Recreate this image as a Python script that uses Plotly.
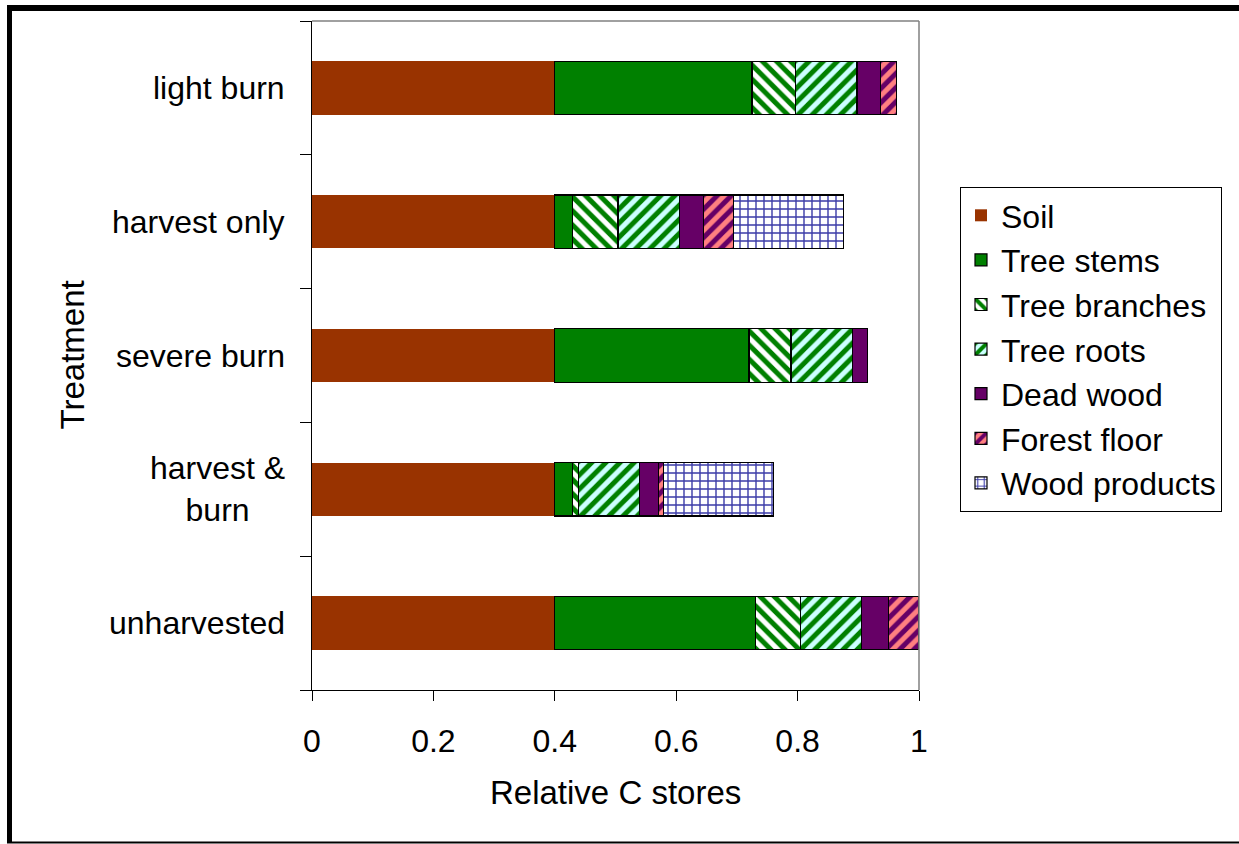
import plotly.graph_objects as go

# Treatments, bottom to top
treatments = ["unharvested", "harvest & burn", "severe burn", "harvest only", "light burn"]
treatment_labels = ["unharvested", "harvest &<br>burn", "severe burn", "harvest only", "light burn"]

# Relative carbon stores by pool
soil = [0.400, 0.400, 0.400, 0.400, 0.400]
tree_stems = [0.330, 0.029, 0.320, 0.029, 0.325]
tree_branches = [0.075, 0.010, 0.069, 0.075, 0.072]
tree_roots = [0.100, 0.100, 0.101, 0.101, 0.101]
dead_wood = [0.045, 0.032, 0.025, 0.040, 0.039]
forest_floor = [0.050, 0.008, 0.000, 0.049, 0.026]
wood_products = [0.000, 0.181, 0.000, 0.181, 0.000]

x_ticks = [0, 0.2, 0.4, 0.6, 0.8, 1]
x_tick_labels = ["0", "0.2", "0.4", "0.6", "0.8", "1"]

FONT = "Liberation Sans, Arial, sans-serif"
W, H = 1239, 844
ML, MR, MT, MB = 312, 320, 21, 154
PW, PH = W - ML - MR, H - MT - MB


def px_x(px):
    return (px - ML) / PW


def px_y(py):
    return (H - MB - py) / PH


OUTLINE = dict(color="black", width=1.2)

series = [
    ("Soil", soil, dict(color="#993300", line=dict(width=0))),
    ("Tree stems", tree_stems, dict(color="#008000", line=OUTLINE)),
    ("Tree branches", tree_branches, dict(
        color="white", line=OUTLINE,
        pattern=dict(shape="\\", fgcolor="#008000", bgcolor="white",
                     size=10, solidity=0.5, fgopacity=1))),
    ("Tree roots", tree_roots, dict(
        color="#CCFFFF", line=OUTLINE,
        pattern=dict(shape="/", fgcolor="#008000", bgcolor="#CCFFFF",
                     size=10, solidity=0.5, fgopacity=1))),
    ("Dead wood", dead_wood, dict(color="#660066", line=OUTLINE)),
    ("Forest floor", forest_floor, dict(
        color="#FF8080", line=OUTLINE,
        pattern=dict(shape="/", fgcolor="#660066", bgcolor="#FF8080",
                     size=10, solidity=0.5, fgopacity=1))),
    ("Wood products", wood_products, dict(
        color="white", line=OUTLINE,
        pattern=dict(shape="+", fgcolor="#3C3CA8", bgcolor="white",
                     size=8, solidity=0.32, fgopacity=1))),
]

fig = go.Figure()
for name, vals, marker in series:
    fig.add_trace(go.Bar(
        y=treatments, x=vals, name=name, orientation="h",
        marker=marker, legendgroup=name,
    ))

fig.update_layout(
    width=W, height=H,
    margin=dict(l=ML, r=MR, t=MT, b=MB, autoexpand=False),
    barmode="stack", bargap=0.6,
    paper_bgcolor="white", plot_bgcolor="white",
    font=dict(family=FONT, size=32, color="black"),
    showlegend=True,
    legend=dict(
        x=px_x(960), y=px_y(187), xanchor="left", yanchor="top",
        bordercolor="black", borderwidth=1, bgcolor="white",
        font=dict(family=FONT, size=32, color="black"),
        traceorder="grouped", tracegroupgap=0,
        itemwidth=30,
    ),
    xaxis=dict(
        range=[0, 1], tickvals=x_ticks, ticktext=x_tick_labels,
        showgrid=False, zeroline=False,
        showline=True, linecolor="black", linewidth=1,
        ticks="outside", ticklen=10, tickcolor="black", tickwidth=1,
        ticklabelstandoff=13,
        tickfont=dict(family=FONT, size=32, color="black"),
    ),
    yaxis=dict(
        categoryorder="array", categoryarray=treatments,
        range=[-0.5, 4.5],
        showgrid=False, zeroline=False,
        showline=True, linecolor="black", linewidth=1,
        ticks="outside", ticklen=11, tickcolor="black", tickwidth=1,
        tickson="boundaries", showticklabels=False,
    ),
)

# Category labels, centred line by line
for cat, label in zip(treatments, treatment_labels):
    fig.add_annotation(
        x=0, xref="paper", y=cat, yref="y", text=label,
        showarrow=False, xanchor="right", yanchor="middle", align="center",
        xshift=-25, font=dict(family=FONT, size=32, color="black"),
    )

# Axis titles
fig.add_annotation(
    x=0.5, xref="paper", y=px_y(792), yref="paper", text="Relative C stores",
    showarrow=False, xanchor="center", yanchor="middle",
    font=dict(family=FONT, size=33, color="black"),
)
fig.add_annotation(
    x=px_x(72), xref="paper", y=0.5, yref="paper", text="Treatment",
    showarrow=False, xanchor="center", yanchor="middle", textangle=-90,
    font=dict(family=FONT, size=33, color="black"),
)

# Grey frame on the top and right of the plot area
fig.add_shape(type="line", xref="paper", yref="paper", x0=0, x1=1, y0=1, y1=1,
              line=dict(color="#808080", width=1.5))
fig.add_shape(type="line", xref="paper", yref="paper", x0=1, x1=1, y0=0, y1=1,
              line=dict(color="#808080", width=1.5))

# Outer chart border
fig.add_shape(type="line", xref="paper", yref="paper",
              x0=px_x(7), x1=px_x(W + 5), y0=px_y(8), y1=px_y(8),
              line=dict(color="black", width=6))
fig.add_shape(type="line", xref="paper", yref="paper",
              x0=px_x(9.5), x1=px_x(9.5), y0=px_y(5), y1=px_y(843),
              line=dict(color="black", width=5))
fig.add_shape(type="line", xref="paper", yref="paper",
              x0=px_x(7), x1=px_x(W + 5), y0=px_y(842.5), y1=px_y(842.5),
              line=dict(color="black", width=2))

fig.write_html("out.html")
